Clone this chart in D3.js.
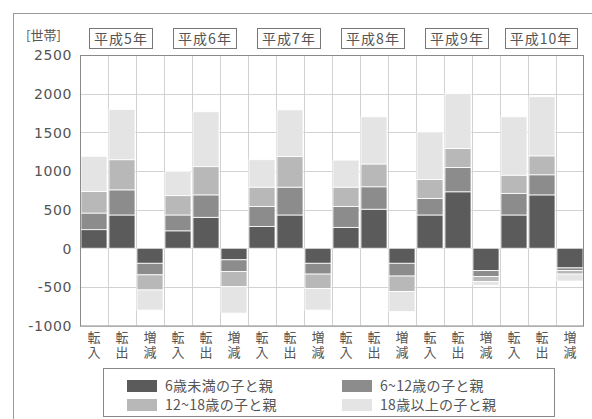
<!DOCTYPE html>
<html>
<head>
<meta charset="utf-8">
<script src="https://cdn.jsdelivr.net/npm/d3@7"></script>
<style>
  html, body { margin: 0; padding: 0; background: #fff; }
  svg { display: block; }
  text { font-family: "Noto Sans CJK JP", "Noto Sans", sans-serif; fill: #555; }
</style>
</head>
<body>
<svg id="chart" width="592" height="419"></svg>
<script>
// 年度ごとの転入・転出・増減（世帯数）
const years = ["平成5年", "平成6年", "平成7年", "平成8年", "平成9年", "平成10年"];
const kinds = ["転入", "転出", "増減"];
const seriesNames = ["6歳未満の子と親", "6~12歳の子と親", "12~18歳の子と親", "18歳以上の子と親"];
const seriesColors = ["#5b5b5b", "#8c8c8c", "#b8b8b8", "#e4e4e4"];

// 各列の値（年度×[転入, 転出, 増減]）
const under6 = [
  240, 430, -195,
  225, 400, -150,
  280, 430, -195,
  270, 505, -195,
  430, 730, -290,
  430, 690, -255
];
const age6to12 = [
  215, 325, -150,
  205, 290, -150,
  260, 360, -140,
  270, 290, -165,
  215, 315, -75,
  280, 260, -35
];
const age12to18 = [
  280, 390, -195,
  250, 365, -195,
  250, 395, -185,
  250, 295, -200,
  245, 245, -65,
  235, 245, -45
];
const over18 = [
  455, 650, -260,
  310, 710, -345,
  355, 605, -280,
  350, 610, -260,
  615, 710, -50,
  755, 765, -90
];
const yTicks = [2500, 2000, 1500, 1000, 500, 0, -500, -1000];

const seriesValues = [under6, age6to12, age12to18, over18];
const columns = years.flatMap(y => kinds.map(k => y + "|" + k));

const svg = d3.select("#chart");

// 外枠
svg.append("rect")
  .attr("x", 13.5).attr("y", 13.5)
  .attr("width", 600).attr("height", 420)
  .attr("fill", "none").attr("stroke", "#999").attr("stroke-width", 1);

const plot = { left: 80, right: 584, top: 55, bottom: 325.5 };

const x = d3.scaleBand().domain(columns).range([plot.left, plot.right]).paddingInner(0.07).paddingOuter(0.035);
const y = d3.scaleLinear().domain([-1000, 2500]).range([plot.bottom, plot.top]);

// 横グリッド
svg.append("g").selectAll("line").data(yTicks).join("line")
  .attr("x1", plot.left).attr("x2", plot.right)
  .attr("y1", d => Math.round(y(d)) + 0.5).attr("y2", d => Math.round(y(d)) + 0.5)
  .attr("stroke", "#d2d2d2");

// 縦グリッド（列の境界）
svg.append("g").selectAll("line").data(d3.range(1, columns.length)).join("line")
  .attr("x1", i => Math.round(plot.left + i * (plot.right - plot.left) / columns.length) + 0.5)
  .attr("x2", i => Math.round(plot.left + i * (plot.right - plot.left) / columns.length) + 0.5)
  .attr("y1", plot.top).attr("y2", plot.bottom)
  .attr("stroke", "#d2d2d2");

// 積み上げ棒
const stackedRows = columns.map((c, i) => {
  let base = 0;
  return seriesValues.map((vals, s) => {
    const v = vals[i];
    const seg = { col: c, s, y0: base, y1: base + v };
    base += v;
    return seg;
  });
}).flat();

svg.append("g").selectAll("rect").data(stackedRows).join("rect")
  .attr("x", d => x(d.col))
  .attr("width", x.bandwidth())
  .attr("y", d => y(Math.max(d.y0, d.y1)))
  .attr("height", d => Math.abs(y(d.y0) - y(d.y1)))
  .attr("fill", d => seriesColors[d.s])
  .attr("stroke", "#fff").attr("stroke-width", 0.8);

// 描画領域の枠
svg.append("rect")
  .attr("x", plot.left + 0.5).attr("y", plot.top + 0.5)
  .attr("width", plot.right - plot.left - 1).attr("height", plot.bottom - plot.top)
  .attr("fill", "none").attr("stroke", "#8a8a8a");

// Y軸目盛ラベル
const yAxis = d3.axisLeft(y).tickValues(yTicks).tickSize(0).tickPadding(8)
  .tickFormat(d => String(d));
const gy = svg.append("g").attr("transform", `translate(${plot.left},0)`).call(yAxis);
gy.select(".domain").remove();
gy.selectAll("text")
  .attr("font-size", 14).attr("fill", "#555")
  .attr("letter-spacing", 0.6)
  .style("font-family", "'DejaVu Sans', sans-serif")
  .attr("dy", "0.35em");

// 単位
svg.append("text").attr("x", 26).attr("y", 40)
  .attr("font-size", 13).attr("fill", "#444")
  .text("[世帯]");

// X軸ラベル（縦書き）
svg.append("g").selectAll("text").data(columns).join("text")
  .attr("x", c => x(c) + x.bandwidth() / 2)
  .attr("y", 331)
  .attr("font-size", 13)
  .attr("letter-spacing", 2)
  .style("writing-mode", "vertical-rl")
  .text(c => c.split("|")[1]);

// 年度ラベル（枠付き）
const groupW = (plot.right - plot.left) / years.length;
years.forEach((yr, i) => {
  const cx = plot.left + groupW * (i + 0.5) - 1;
  const g = svg.append("g");
  const t = g.append("text")
    .attr("x", cx).attr("y", 44)
    .attr("text-anchor", "middle").attr("font-size", 14)
    .attr("letter-spacing", 1)
    .attr("fill", "#555")
    .text(yr);
  const bb = t.node().getBBox();
  g.insert("rect", "text")
    .attr("x", Math.round(bb.x - 5) + 0.5).attr("y", 28.5)
    .attr("width", Math.round(bb.width + 9)).attr("height", 20)
    .attr("fill", "#fff").attr("stroke", "#777");
});

// 凡例
const legend = svg.append("g");
legend.append("rect")
  .attr("x", 103.5).attr("y", 368.5).attr("width", 451).attr("height", 48)
  .attr("fill", "#fff").attr("stroke", "#888");
const legendPos = [
  { x: 127, y: 380 }, { x: 342, y: 380 },
  { x: 127, y: 399 }, { x: 342, y: 399 }
];
seriesNames.forEach((name, i) => {
  const p = legendPos[i];
  legend.append("rect")
    .attr("x", p.x).attr("y", p.y).attr("width", 30).attr("height", 12)
    .attr("fill", seriesColors[i]);
  legend.append("text")
    .attr("x", p.x + 38).attr("y", p.y + 11)
    .attr("font-size", 14).attr("letter-spacing", 0.3).text(name);
});
</script>
</body>
</html>
